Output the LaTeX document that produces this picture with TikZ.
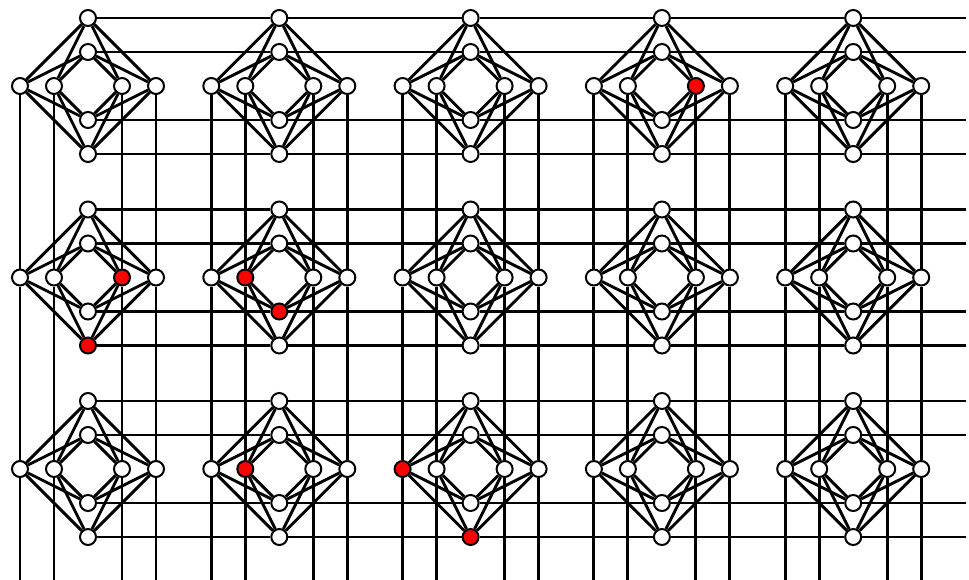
\documentclass[tikz,border=0pt]{standalone}
\usepackage{tikz}
\usetikzlibrary{backgrounds}

% qubits that are shown in red
\tikzset{
    hot r2-3-0/.style={fill=red},
    hot r2-0-1/.style={fill=red},
    hot b1-0-1/.style={fill=red},
    hot l2-1-1/.style={fill=red},
    hot b2-1-1/.style={fill=red},
    hot l2-1-2/.style={fill=red},
    hot l1-2-2/.style={fill=red},
    hot b1-2-2/.style={fill=red}
}

\begin{document}
\begin{tikzpicture}[
        x=1pt, y=-1pt,
        qubit/.style={circle, draw=black, fill=white, line width=2pt, minimum size=16pt, inner sep=0pt},
        coupler/.style={draw=black, line width=2.9pt}
    ]
    \useasboundingbox (0,0) rectangle (969,580);

    % Unit cells
    \foreach \i in {0,...,4}{
        \foreach \j in {0,...,2}{
            \pgfmathsetmacro{\cx}{88+191.3*\i}
            \pgfmathsetmacro{\cy}{86+191.5*\j}
            \foreach \n/\dx/\dy in {t1/0/-68, t2/0/-34, b2/0/34, b1/0/68,
                                     l1/-68/0, l2/-34/0, r2/34/0, r1/68/0}{
                \node[qubit, hot \n-\i-\j/.try] (\n-\i-\j) at ({\cx+\dx},{\cy+\dy}) {};
            }
        }
    }

    % Line ends at the border
    \foreach \j in {0,...,2}{
        \pgfmathsetmacro{\cy}{86+191.5*\j}
        \foreach \n/\dy in {t1/-68, t2/-34, b2/34, b1/68}
            \coordinate (east-\n-\j) at (966,{\cy+\dy});
    }
    \foreach \i in {0,...,4}{
        \pgfmathsetmacro{\cx}{88+191.3*\i}
        \foreach \n/\dx in {l1/-68, l2/-34, r2/34, r1/68}
            \coordinate (south-\n-\i) at ({\cx+\dx},580);
    }

    \begin{scope}[on background layer]
        % Couplers inside a cell
        \foreach \i in {0,...,4}
            \foreach \j in {0,...,2}
                \foreach \v in {t1,t2,b2,b1}
                    \foreach \h in {l1,l2,r2,r1}
                        \draw[coupler] (\v-\i-\j) -- (\h-\i-\j);

        % Couplers along the rows
        \foreach \j in {0,...,2}
            \foreach \v in {t1,t2,b2,b1}
                \draw[coupler] (\v-0-\j) -- (\v-1-\j) -- (\v-2-\j) -- (\v-3-\j) -- (\v-4-\j) -- (east-\v-\j);

        % Couplers along the columns
        \foreach \i in {0,...,4}
            \foreach \h in {l1,l2,r2,r1}
                \draw[coupler] (\h-\i-0) -- (\h-\i-1) -- (\h-\i-2) -- (south-\h-\i);
    \end{scope}

\end{tikzpicture}
\end{document}
